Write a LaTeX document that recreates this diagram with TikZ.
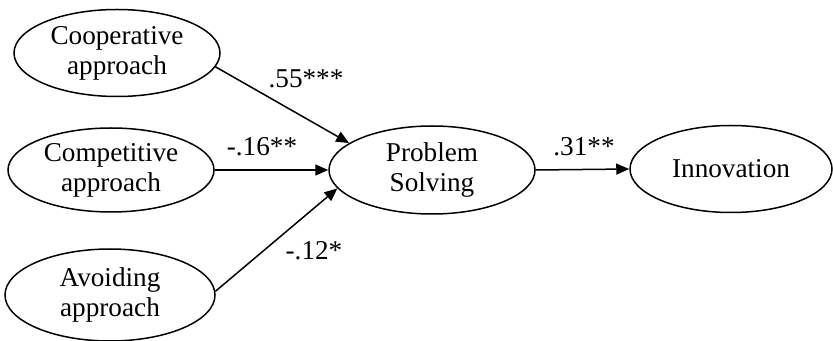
\documentclass[tikz,border=0pt]{standalone}
\usepackage{fontspec}
\setmainfont{Liberation Serif}
\newfontfamily\timesfont{Liberation Serif}
\usetikzlibrary{shapes.geometric,arrows.meta}
\begin{document}
\begin{tikzpicture}[x=0.5pt,y=-0.5pt,
  latent/.style={draw,ellipse,line width=0.75pt,inner sep=0pt,align=center,
    font=\timesfont\fontsize{13.6}{15}\selectfont},
  path/.style={draw,line width=0.75pt,-{Triangle[length=6.5pt,width=5.5pt]}},
  coef/.style={font=\timesfont\fontsize{13.6}{14}\selectfont,inner sep=0pt}]
\useasboundingbox (0,0) rectangle (833,341);
\node[latent,minimum width=103pt,minimum height=43.5pt] (coop) at (117,53) {Cooperative\\approach};
\node[latent,minimum width=103pt,minimum height=42pt] (comp) at (111,170) {Competitive\\approach};
\node[latent,minimum width=105pt,minimum height=46pt] (avoid) at (110,295) {Avoiding\\approach};
\node[latent,minimum width=103pt,minimum height=44pt] (ps) at (432,170) {Problem\\Solving};
\node[latent,minimum width=101pt,minimum height=43.5pt] (inn) at (731,169) {Innovation};
\draw[path] (coop.-8) -- (ps.162);
\draw[path] (comp.east) -- (ps.west);
\draw[path] (avoid.2) -- (ps.191);
\draw[path] (ps.east) -- (inn.west);
\node[coef] (l1) at (306,79) {.55***};
\node[coef] (l2) at (262,147) {-.16**};
\node[coef] (l3) at (314,251) {-.12*};
\node[coef] (l4) at (584,147) {.31**};
\end{tikzpicture}
\end{document}
